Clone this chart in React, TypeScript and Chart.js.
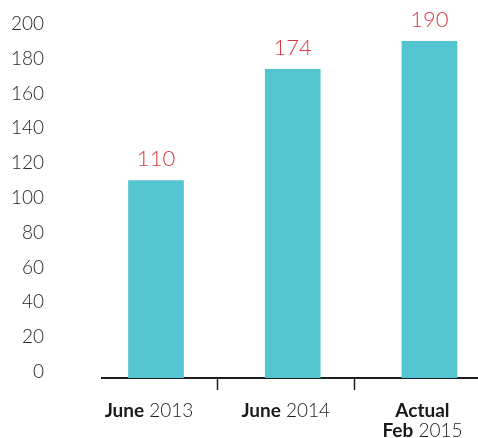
import React, { useEffect, useRef } from "react";
import { Chart, registerables } from "chart.js";

Chart.register(...registerables);

// Data
const categoryLines: [string, string][][] = [
  [["June", "2013"]],
  [["June", "2014"]],
  [["Actual", ""], ["Feb", "2015"]],
];
const values = [110, 174, 190];
const yTickValues = [0, 20, 40, 60, 80, 100, 120, 140, 160, 180, 200];

const FONT = "Lato, 'Open Sans', sans-serif";
const BAR_COLOR = "#53c5d0";
const LABEL_RED = "#d83a40";
const AXIS_COLOR = "#1e1e1e";
const Y_MIN = -3.6;
const LABEL_SHIFT = -7;

const overlayPlugin = {
  id: "overlay",
  afterDatasetsDraw(chart: any) {
    const { ctx, chartArea } = chart;
    const xs = chart.scales.x;
    const meta = chart.getDatasetMeta(0);
    ctx.save();
    // value labels
    ctx.fillStyle = LABEL_RED;
    ctx.font = `300 22px ${FONT}`;
    ctx.textAlign = "center";
    ctx.textBaseline = "alphabetic";
    meta.data.forEach((bar: any, i: number) => {
      ctx.fillText(String(values[i]), bar.x, bar.y - 14);
    });
    // tick marks between categories
    ctx.strokeStyle = AXIS_COLOR;
    ctx.lineWidth = 1.5;
    for (let i = 0; i < values.length - 1; i++) {
      const x =
        Math.round((xs.getPixelForValue(i) + xs.getPixelForValue(i + 1)) / 2 + LABEL_SHIFT) + 0.5;
      ctx.beginPath();
      ctx.moveTo(x, chartArea.bottom);
      ctx.lineTo(x, chartArea.bottom + 12);
      ctx.stroke();
    }
    // category labels
    ctx.fillStyle = "#1a1a1a";
    ctx.textAlign = "left";
    categoryLines.forEach((lines, i) => {
      const cx = xs.getPixelForValue(i) + LABEL_SHIFT;
      lines.forEach(([bold, light], li) => {
        const boldFont = `700 19px ${FONT}`;
        const lightFont = `300 19px ${FONT}`;
        ctx.font = boldFont;
        const bw = ctx.measureText(bold).width;
        ctx.font = lightFont;
        const lw = light ? ctx.measureText(" " + light).width : 0;
        const start = cx - (bw + lw) / 2;
        const y = chartArea.bottom + 39 + li * 20;
        ctx.font = boldFont;
        ctx.fillText(bold, start, y);
        if (light) {
          ctx.font = lightFont;
          ctx.fillText(" " + light, start + bw, y);
        }
      });
    });
    ctx.restore();
  },
};

export default function App() {
  const ref = useRef<HTMLCanvasElement>(null);
  useEffect(() => {
    document.body.style.margin = "0";
    const chart = new Chart(ref.current!, {
      type: "bar",
      data: {
        datasets: [
          {
            data: values.map((v, i) => ({ x: i, y: v })),
            backgroundColor: BAR_COLOR,
            barThickness: 55,
            base: Y_MIN,
          } as any,
        ],
      },
      options: {
        animation: false,
        responsive: false,
        layout: { padding: { top: 24, left: 0, right: 0, bottom: 0 } },
        plugins: { legend: { display: false }, tooltip: { enabled: false } },
        scales: {
          x: {
            type: "linear",
            min: -0.395,
            max: 2.355,
            offset: false,
            grid: { display: false },
            border: { display: true, color: AXIS_COLOR, width: 2 },
            ticks: { display: false },
            afterFit: (s: any) => {
              s.height = 60;
              s.paddingLeft = 0;
              s.paddingRight = 0;
            },
          },
          y: {
            min: Y_MIN,
            max: 200,
            grid: { display: false },
            border: { display: false },
            afterBuildTicks: (s: any) => {
              s.ticks = yTickValues.map((v) => ({ value: v }));
            },
            afterFit: (s: any) => {
              s.width = 102;
              s.paddingTop = 0;
              s.paddingBottom = 0;
            },
            ticks: {
              padding: 50,
              color: "#262626",
              font: { family: FONT, size: 19, weight: 300 as any },
            },
          },
        },
      },
      plugins: [overlayPlugin],
    });
    return () => chart.destroy();
  }, []);
  return <canvas ref={ref} width={478} height={438} style={{ display: "block" }} />;
}
